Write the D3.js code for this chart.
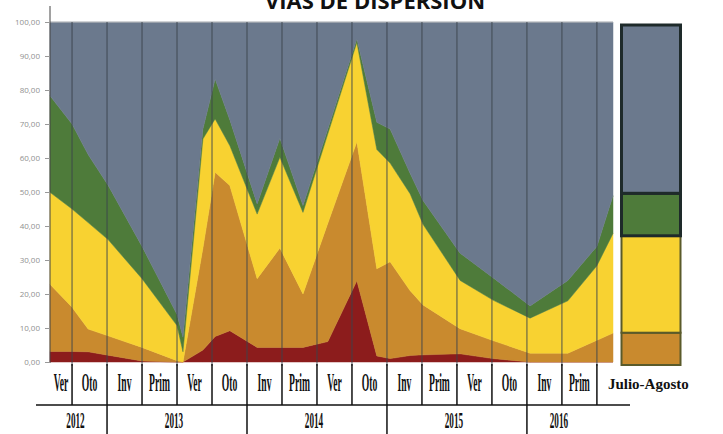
<!DOCTYPE html>
<html><head><meta charset="utf-8">
<script src="https://cdn.jsdelivr.net/npm/d3@7"></script>
<style>body{margin:0;background:#fff}</style>
</head><body><svg id="c" width="723" height="434"></svg>
<script>
// x positions in "season cell" units (cell boundary k = gridline k)
const positions = [0.37,1.00,1.46,2.03,3.00,4.00,4.17,4.74,5.09,5.51,6.29,6.94,7.60,8.31,9.14,9.71,10.09,10.66,11.03,12.09,13.03,14.09,15.17,16.00,16.46];
const rojo     = [3.1,3.1,3.0,2.0,0.3,0.0,0.0,3.5,7.5,9.2,4.3,4.3,4.3,6.0,23.9,1.8,1.0,1.9,2.1,2.4,1.0,0.0,0.0,0.0,0.0];
const naranja  = [19.8,13.0,6.7,5.7,4.0,0.4,0.0,30.0,48.3,42.7,20.2,29.2,15.7,34.8,40.9,25.6,28.5,19.1,14.7,7.4,5.3,2.6,2.6,6.4,8.5];
const amarillo = [27.0,28.9,31.3,28.3,20.2,10.3,3.0,32.1,15.7,11.7,19.0,26.7,24.0,26.3,29.2,35.1,29.0,28.5,23.7,14.2,11.9,10.3,15.4,21.9,29.3];
const verde    = [28.4,25.0,20.0,16.0,9.5,3.3,4.3,2.9,11.7,7.6,3.0,5.6,2.0,1.4,1.0,8.0,10.0,6.0,7.0,8.0,6.6,3.6,6.0,5.7,11.1];
const gris     = [21.7,30.0,39.0,48.0,66.0,86.0,92.7,31.5,16.8,28.8,53.5,34.2,54.0,31.5,5.0,29.5,31.5,44.5,52.5,68.0,75.2,83.5,76.0,66.0,51.1];

const keys = ["rojo","naranja","amarillo","verde","gris"];
const colors = ["#8c1c1c","#c98a2e","#f8d231","#4e7b3a","#6b798d"];

const seasons = ["Ver","Oto","Inv","Prim","Ver","Oto","Inv","Prim","Ver","Oto","Inv","Prim","Ver","Oto","Inv","Prim"];
const lastLabel = "Julio-Agosto";
const years = ["2012","2013","2014","2015","2016"];
const yearSpans = [[0.37,2],[2,6],[6,10],[10,14],[14,16]];
const yTicks = [0,10,20,30,40,50,60,70,80,90,100];
const julioAgosto = [0, 9.5, 28.5, 12.5, 49.5];
const title = "VIAS DE DISPERSION";

const svg = d3.select("#c");
const x = d3.scaleLinear().domain([0.37,16.46]).range([50,613]);
const y = d3.scaleLinear().domain([0,100]).range([362,22]);

const series = {rojo, naranja, amarillo, verde, gris};
const rows = positions.map((p,i)=>{const r={x:p}; keys.forEach(k=>r[k]=series[k][i]); return r;});
const stacked = d3.stack().keys(keys)(rows);

const area = d3.area().x(d=>x(d.data.x)).y0(d=>y(d[0])).y1(d=>y(d[1])).curve(d3.curveLinear);
svg.append("g").selectAll("path").data(stacked).join("path")
  .attr("d", area).attr("fill",(d,i)=>colors[i]).attr("stroke",(d,i)=>colors[i]).attr("stroke-width",0.5);

// top light border
svg.append("line").attr("x1",50).attr("x2",613).attr("y1",22).attr("y2",22).attr("stroke","#c8c8c8").attr("stroke-width",1);

// vertical gridlines
const ks = d3.range(1,17);
svg.append("g").selectAll("line").data(ks).join("line")
  .attr("x1",d=>x(d)).attr("x2",d=>x(d)).attr("y1",22).attr("y2",366)
  .attr("stroke","#3c444c").attr("stroke-width",1.2).attr("opacity",0.75);

// y axis
svg.append("line").attr("x1",50).attr("x2",50).attr("y1",6).attr("y2",363).attr("stroke","#444").attr("stroke-width",1);
const yAxis = d3.axisLeft(y).tickValues(yTicks).tickSize(5).tickFormat(d=>d3.format(".2f")(d).replace(".",","));
const ya = svg.append("g").attr("transform","translate(50,0)").call(yAxis);
ya.select(".domain").remove();
ya.selectAll("line").attr("stroke","#999");
ya.selectAll("text").attr("fill","#909090").attr("font-family","Open Sans").attr("font-size",8).attr("dx",-2);

// title (clipped at top, as in the reference)
svg.append("text").attr("x",375).attr("y",9).attr("text-anchor","middle")
  .attr("font-family","Open Sans").attr("font-weight","bold").attr("font-size",22).attr("fill","#111").text(title);

// table below
const tbl = svg.append("g");
tbl.selectAll("line.sep").data(ks).join("line").attr("class","sep")
  .attr("x1",d=>x(d)).attr("x2",d=>x(d)).attr("y1",364).attr("y2",405)
  .attr("stroke","#111").attr("stroke-width",1.5);
tbl.append("line").attr("x1",36).attr("x2",630).attr("y1",405).attr("y2",405).attr("stroke","#111").attr("stroke-width",1.5);
tbl.selectAll("line.ysep").data(yearSpans.slice(1).map(s=>s[0])).join("line").attr("class","ysep")
  .attr("x1",d=>x(d)).attr("x2",d=>x(d)).attr("y1",405).attr("y2",434)
  .attr("stroke","#111").attr("stroke-width",1.5);

const sg = tbl.selectAll("g.season").data(seasons).join("g").attr("class","season")
  .attr("transform",(d,i)=>`translate(${x((Math.max(i,0.37)+i+1)/2)},391)`);
sg.append("text").attr("transform","scale(0.37,1)").attr("text-anchor","middle")
  .attr("font-family","Liberation Serif").attr("font-weight","bold").attr("font-size",26).attr("fill","#111").text(d=>d);

tbl.append("text").attr("x",x(16)+11).attr("y",389).attr("font-family","Liberation Serif").attr("font-weight","bold")
  .attr("font-size",15).attr("fill","#111").text(lastLabel);

const yg = tbl.selectAll("g.year").data(years).join("g").attr("class","year")
  .attr("transform",(d,i)=>`translate(${x((yearSpans[i][0]+yearSpans[i][1])/2)-3},428)`);
yg.append("text").attr("transform","scale(0.4,1)").attr("text-anchor","middle")
  .attr("font-family","Liberation Serif").attr("font-weight","bold").attr("font-size",23).attr("fill","#111").text(d=>d);

// Julio-Agosto stacked bar (legend-like column)
const barStack = d3.stack().keys(keys)([Object.fromEntries(keys.map((k,i)=>[k,julioAgosto[i]]))]);
const strokes = ["#5a5a2a","#5a5a2a","#5a5a2a","#1e2a2a","#1e2a2a"];
const sw = [2,2,2,3,3];
const bar = svg.append("g").attr("transform","translate(0,3)");
bar.selectAll("rect").data(barStack.filter((s,i)=>julioAgosto[i]>0)).join("rect")
  .attr("x",621.5).attr("width",59)
  .attr("y",d=>y(d[0][1])).attr("height",d=>y(d[0][0])-y(d[0][1]))
  .attr("fill",d=>colors[keys.indexOf(d.key)])
  .attr("stroke",d=>strokes[keys.indexOf(d.key)])
  .attr("stroke-width",d=>sw[keys.indexOf(d.key)]);
</script></body></html>
